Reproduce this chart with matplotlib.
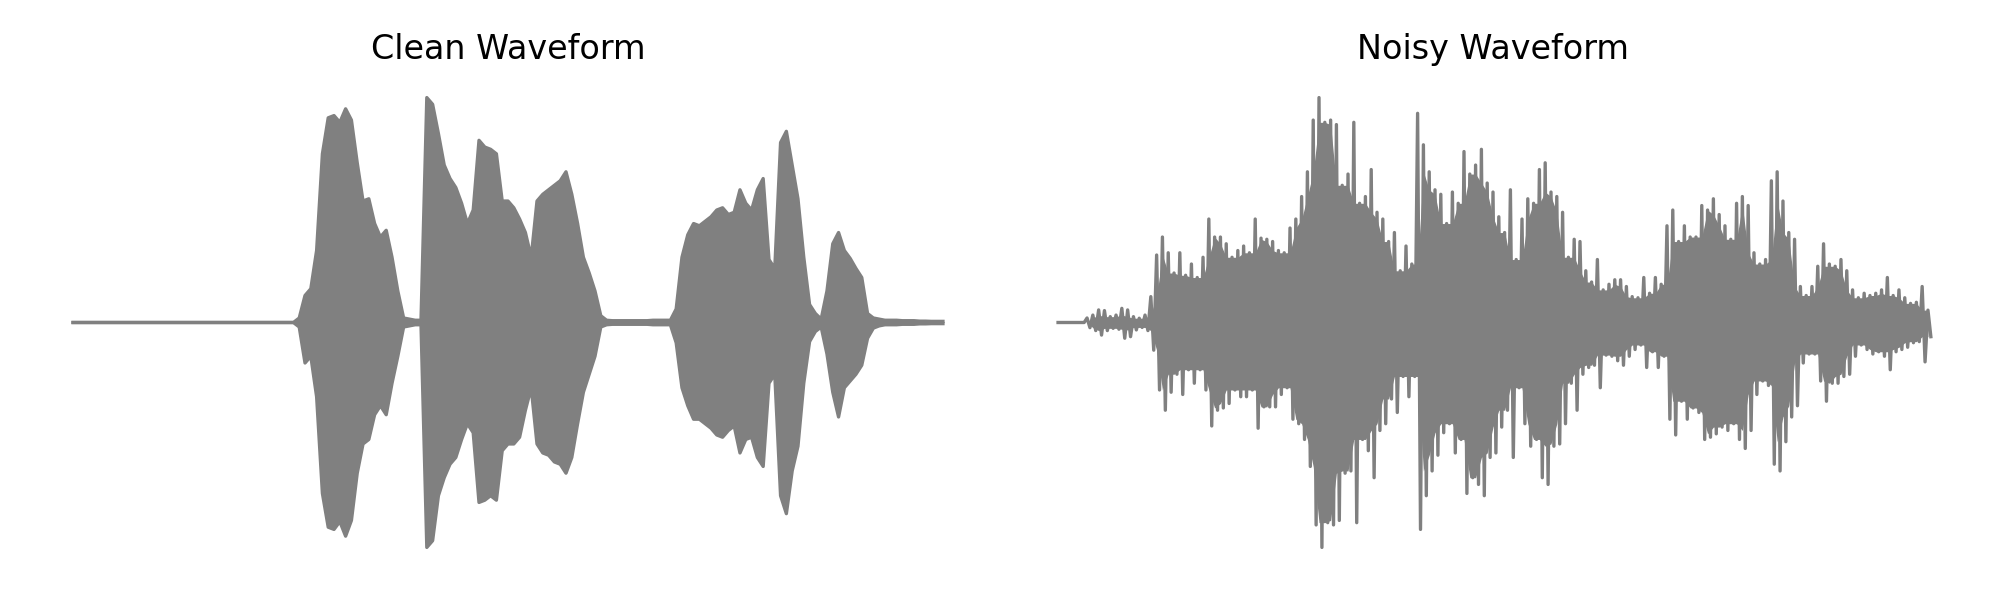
import numpy as np
import matplotlib
matplotlib.use("Agg")
import matplotlib.pyplot as plt

# ---- data: amplitude envelope read every 0.02 s (upper peak, lower trough magnitude) ----
sample_step = 0.02  # seconds between readings
titles = ["Clean Waveform", "Noisy Waveform"]

clean_upper = [
    0, 0, 0, 0, 0, 0, 0, 0, 0, 0,
    0, 0, 0, 0, 0, 0, 0, 0, 0, 0,
    0, 0, 0, 0, 0, 0, 0, 0, 0, 0,
    0, 0, 0, 0, 0, 0, 0, 0, 0, 0.02,
    0.12, 0.15, 0.32, 0.75, 0.91, 0.92, 0.89, 0.95, 0.90, 0.71,
    0.54, 0.55, 0.44, 0.38, 0.41, 0.29, 0.14, 0.02, 0.015, 0.01,
    0.01, 1.00, 0.97, 0.84, 0.70, 0.64, 0.60, 0.53, 0.44, 0.50,
    0.81, 0.78, 0.77, 0.75, 0.54, 0.54, 0.51, 0.46, 0.40, 0.29,
    0.54, 0.57, 0.59, 0.61, 0.63, 0.67, 0.57, 0.44, 0.29, 0.22,
    0.14, 0.03, 0.01, 0.008, 0.008, 0.008, 0.008, 0.008, 0.008, 0.008,
    0.01, 0.01, 0.01, 0.01, 0.06, 0.29, 0.39, 0.44, 0.43, 0.45,
    0.47, 0.50, 0.51, 0.48, 0.49, 0.59, 0.53, 0.50, 0.59, 0.64,
    0.28, 0.24, 0.80, 0.85, 0.70, 0.55, 0.29, 0.08, 0.04, 0.015,
    0.14, 0.35, 0.40, 0.32, 0.285, 0.24, 0.20, 0.04, 0.02, 0.015,
    0.01, 0.01, 0.01, 0.008, 0.008, 0.008, 0.006, 0.006, 0.005, 0.005, 0.005,
]
clean_lower = [
    0, 0, 0, 0, 0, 0, 0, 0, 0, 0,
    0, 0, 0, 0, 0, 0, 0, 0, 0, 0,
    0, 0, 0, 0, 0, 0, 0, 0, 0, 0,
    0, 0, 0, 0, 0, 0, 0, 0, 0, 0.02,
    0.18, 0.15, 0.33, 0.76, 0.91, 0.92, 0.885, 0.95, 0.88, 0.67,
    0.54, 0.52, 0.41, 0.37, 0.41, 0.27, 0.15, 0.02, 0.015, 0.01,
    0.01, 1.00, 0.97, 0.77, 0.69, 0.63, 0.60, 0.52, 0.45, 0.49,
    0.80, 0.79, 0.77, 0.79, 0.57, 0.54, 0.54, 0.51, 0.39, 0.29,
    0.54, 0.58, 0.59, 0.62, 0.63, 0.67, 0.60, 0.45, 0.31, 0.23,
    0.15, 0.02, 0.01, 0.008, 0.008, 0.008, 0.008, 0.008, 0.008, 0.008,
    0.01, 0.01, 0.01, 0.01, 0.09, 0.29, 0.37, 0.43, 0.43, 0.45,
    0.47, 0.50, 0.51, 0.48, 0.46, 0.58, 0.52, 0.51, 0.60, 0.64,
    0.27, 0.23, 0.77, 0.85, 0.66, 0.55, 0.27, 0.085, 0.04, 0.02,
    0.14, 0.31, 0.42, 0.29, 0.26, 0.23, 0.19, 0.07, 0.025, 0.015,
    0.01, 0.01, 0.01, 0.008, 0.008, 0.008, 0.006, 0.006, 0.005, 0.005, 0.005,
]
noisy_upper = [
    0, 0, 0, 0, 0, 0.02, 0.033, 0.056, 0.053, 0.026,
    0.033, 0.063, 0.056, 0.026, 0.019, 0.033, 0.115, 0.30, 0.38, 0.31,
    0.22, 0.31, 0.21, 0.26, 0.20, 0.29, 0.46, 0.38, 0.38, 0.35,
    0.29, 0.32, 0.34, 0.31, 0.46, 0.375, 0.37, 0.36, 0.32, 0.31,
    0.42, 0.46, 0.56, 0.67, 0.90, 1.00, 0.89, 0.90, 0.88, 0.61,
    0.66, 0.89, 0.53, 0.56, 0.68, 0.49, 0.46, 0.36, 0.40, 0.23,
    0.34, 0.26, 0.93, 0.79, 0.67, 0.59, 0.57, 0.44, 0.58, 0.53,
    0.76, 0.66, 0.70, 0.77, 0.62, 0.58, 0.47, 0.40, 0.59, 0.28,
    0.46, 0.55, 0.53, 0.68, 0.71, 0.58, 0.56, 0.49, 0.29, 0.37,
    0.36, 0.23, 0.18, 0.28, 0.145, 0.17, 0.19, 0.19, 0.16, 0.115,
    0.11, 0.20, 0.13, 0.20, 0.17, 0.43, 0.50, 0.36, 0.43, 0.38,
    0.38, 0.52, 0.50, 0.55, 0.48, 0.43, 0.37, 0.53, 0.56, 0.52,
    0.31, 0.26, 0.28, 0.63, 0.67, 0.54, 0.40, 0.37, 0.16, 0.12,
    0.16, 0.25, 0.35, 0.26, 0.25, 0.28, 0.23, 0.145, 0.11, 0.13,
    0.12, 0.13, 0.145, 0.20, 0.12, 0.145, 0.11, 0.085, 0.09, 0.16, 0.055,
]
noisy_lower = [
    0, 0, 0, 0, 0, 0.023, 0.036, 0.056, 0.036, 0.026,
    0.03, 0.07, 0.063, 0.033, 0.022, 0.036, 0.123, 0.30, 0.39, 0.31,
    0.23, 0.32, 0.21, 0.27, 0.21, 0.30, 0.46, 0.39, 0.38, 0.36,
    0.30, 0.33, 0.33, 0.30, 0.47, 0.375, 0.375, 0.375, 0.32, 0.29,
    0.43, 0.45, 0.52, 0.64, 0.90, 1.00, 0.89, 0.90, 0.88, 0.67,
    0.66, 0.89, 0.52, 0.57, 0.69, 0.48, 0.45, 0.34, 0.40, 0.24,
    0.33, 0.24, 0.92, 0.77, 0.66, 0.59, 0.49, 0.45, 0.58, 0.52,
    0.76, 0.69, 0.72, 0.77, 0.60, 0.58, 0.465, 0.39, 0.60, 0.29,
    0.45, 0.55, 0.52, 0.69, 0.72, 0.55, 0.54, 0.45, 0.27, 0.39,
    0.23, 0.20, 0.19, 0.29, 0.145, 0.15, 0.17, 0.19, 0.15, 0.12,
    0.10, 0.20, 0.13, 0.20, 0.15, 0.43, 0.50, 0.35, 0.43, 0.38,
    0.40, 0.52, 0.51, 0.495, 0.465, 0.48, 0.45, 0.52, 0.56, 0.48,
    0.32, 0.26, 0.28, 0.63, 0.66, 0.53, 0.42, 0.37, 0.18, 0.14,
    0.14, 0.26, 0.35, 0.27, 0.27, 0.24, 0.23, 0.15, 0.10, 0.12,
    0.14, 0.13, 0.15, 0.21, 0.13, 0.12, 0.11, 0.09, 0.085, 0.175, 0.063,
]

WAVE_COLOR = "gray"
LW = 1.2


def rolling_min3(a):
    p = np.pad(a, 1, mode="edge")
    return np.minimum(np.minimum(p[:-2], p[1:-1]), p[2:])


def setup(ax, title):
    ax.set_xlim(-0.145, 3.145)
    ax.set_ylim(-1.096, 1.096)
    ax.axis("off")
    ax.set_title(title, fontsize=12)


def draw_smooth(ax, upper, lower, title):
    """Dense, clean signal: solid envelope with a stroked outline."""
    up = np.asarray(upper, dtype=float)
    lo = np.asarray(lower, dtype=float)
    t = np.arange(len(up)) * sample_step
    ax.fill_between(t, up, -lo, color=WAVE_COLOR, linewidth=0)
    ax.plot(t, up, color=WAVE_COLOR, linewidth=LW)
    ax.plot(t, -lo, color=WAVE_COLOR, linewidth=LW)
    setup(ax, title)


def draw_spiky(ax, upper, lower, title):
    """Noisy signal: oscillating trace (peak per reading) over a solid core."""
    up = np.asarray(upper, dtype=float)
    lo = np.asarray(lower, dtype=float)
    t = np.arange(len(up)) * sample_step
    tz = np.empty(2 * len(t))
    yz = np.empty(2 * len(t))
    tz[0::2] = t
    tz[1::2] = t + sample_step / 2
    yz[0::2] = up
    yz[1::2] = -lo
    ax.fill_between(t, rolling_min3(up), -rolling_min3(lo),
                    color=WAVE_COLOR, linewidth=0)
    ax.plot(tz, yz, color=WAVE_COLOR, linewidth=LW)
    setup(ax, title)


fig = plt.figure(figsize=(10, 3), dpi=200)
ax1 = fig.add_axes([31 / 2000, 31 / 600, 954 / 2000, 493 / 600])
ax2 = fig.add_axes([1016 / 2000, 31 / 600, 954 / 2000, 493 / 600])
draw_smooth(ax1, clean_upper, clean_lower, titles[0])
draw_spiky(ax2, noisy_upper, noisy_lower, titles[1])
fig.savefig("out.png", dpi=200, facecolor="white")
